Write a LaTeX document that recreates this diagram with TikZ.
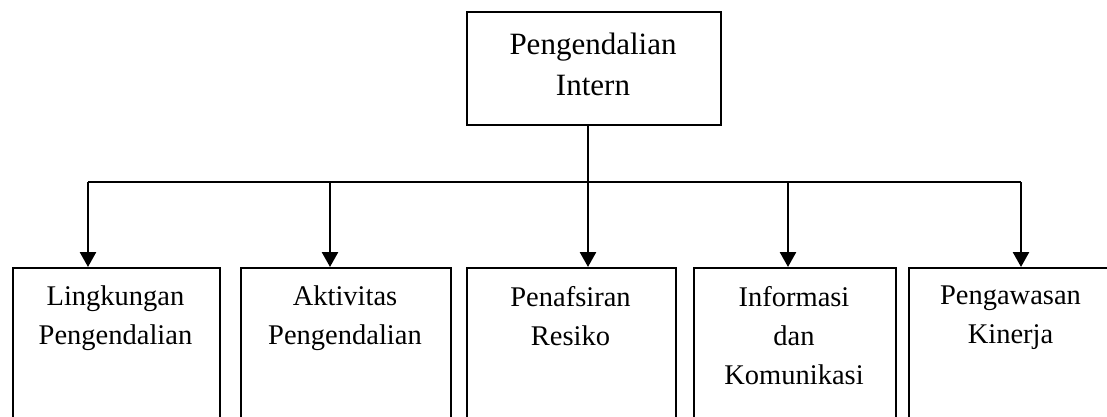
\documentclass[tikz,border=0pt]{standalone}
\usepackage{fontspec}
\setmainfont{Liberation Serif}
\usetikzlibrary{arrows.meta}
\begin{document}
\begin{tikzpicture}[x=1pt,y=-1pt,
  boxline/.style={draw,line width=1.8pt},
  toptext/.style={anchor=north,inner sep=0pt,align=center,font=\fontsize{31}{41}\selectfont},
  lowtext/.style={anchor=north,inner sep=0pt,align=center,font=\fontsize{28.5}{39}\selectfont},
  bus/.style={line width=2pt},
  arr/.style={line width=2.6pt,-{Triangle[width=16pt,length=15pt]}}]
\useasboundingbox (0,0) rectangle (1107,416);
\clip (0,0) rectangle (1107,416);
% top box
\node[boxline,rectangle,minimum width=254pt,minimum height=113pt,inner sep=0pt,anchor=north west] (top) at (466,11) {};
\node[toptext] (toptx) at (593,33) {Pengendalian\\Intern};
% bottom boxes
\node[boxline,rectangle,minimum width=207pt,minimum height=180pt,inner sep=0pt,anchor=north west] (b1) at (12,267) {};
\node[boxline,rectangle,minimum width=210pt,minimum height=180pt,inner sep=0pt,anchor=north west] (b2) at (240,267) {};
\node[boxline,rectangle,minimum width=209pt,minimum height=180pt,inner sep=0pt,anchor=north west] (b3) at (466,267) {};
\node[boxline,rectangle,minimum width=202pt,minimum height=180pt,inner sep=0pt,anchor=north west] (b4) at (693,267) {};
\node[boxline,rectangle,minimum width=205pt,minimum height=180pt,inner sep=0pt,anchor=north west] (b5) at (908,267) {};
\node[lowtext] (t1) at (115.5,286) {Lingkungan\\Pengendalian};
\node[lowtext] (t2) at (345,286) {Aktivitas\\Pengendalian};
\node[lowtext] (t3) at (570.5,286) {Penafsiran\\Resiko};
\node[lowtext] (t4) at (794,286) {Informasi\\dan\\Komunikasi};
\node[lowtext] (t5) at (1010.5,286) {Pengawasan\\Kinerja};
% bus
\coordinate (j) at (588,182);
\coordinate (c1) at (88,182);
\coordinate (c2) at (330,182);
\coordinate (c3) at (588,182);
\coordinate (c4) at (788,182);
\coordinate (c5) at (1021,182);
\draw[bus] (top.south -| j) -- (j);
\draw[bus] (c1) -- (c5);
\draw[arr] (c1) -- (c1 |- b1.north);
\draw[arr] (c2) -- (c2 |- b2.north);
\draw[arr] (c3) -- (c3 |- b3.north);
\draw[arr] (c4) -- (c4 |- b4.north);
\draw[arr] (c5) -- (c5 |- b5.north);
\end{tikzpicture}
\end{document}
